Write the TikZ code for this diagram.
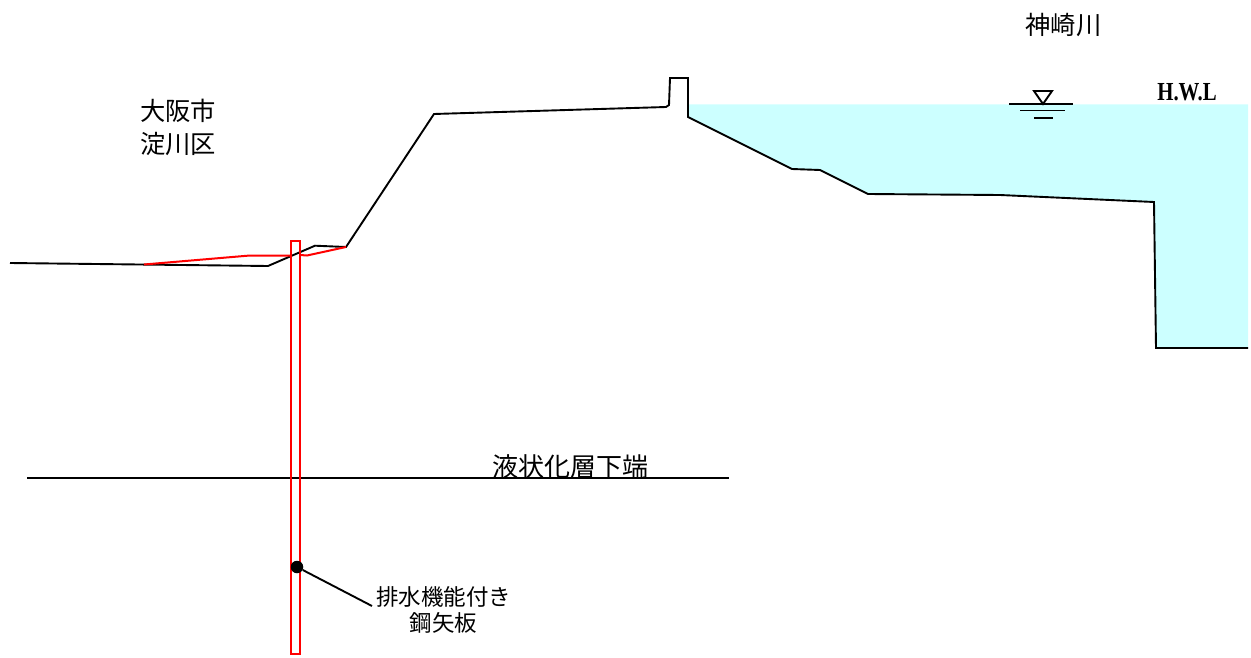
\documentclass[tikz,border=0pt]{standalone}
\usepackage{fontspec}
\newfontfamily\cjk{Noto Sans CJK JP}
\newfontfamily\hwl[FakeStretch=0.8]{Liberation Serif}
\tikzset{
  line/.style={draw=black,line width=1.9pt,line join=miter},
  redline/.style={draw=red,line width=2pt},
  jp/.style={font=\cjk\fontsize{25.3}{33}\selectfont,inner sep=0pt,align=center,text=black},
  jpwide/.style={font=\cjk\fontsize{26}{33}\selectfont,inner sep=0pt,align=center,text=black},
  jpsmall/.style={font=\cjk\fontsize{22.5}{26}\selectfont,inner sep=0pt,align=center,text=black},
}
\definecolor{water}{HTML}{CCFFFF}
\begin{document}
\begin{tikzpicture}[x=1pt,y=-1pt]
\useasboundingbox (0,0) rectangle (1251,658);
\fill[water] (689,104.5) -- (1248,104.5) -- (1248,348) -- (1156,348) -- (1154,202) -- (1000,195) -- (868,194) -- (820,170) -- (792,169) -- (688,117) -- cycle;
% ground and river bed
\draw[line] (10,263) -- (268,266) -- (315,245.7) -- (346,247) -- (434,114) -- (666,107) -- (669,105) -- (670,78) -- (688,78) -- (688,117) -- (792,169) -- (820,170) -- (868,194) -- (1000,195) -- (1154,202) -- (1156,348) -- (1248,348);
% lower end of liquefied layer
\coordinate (la) at (27,478); \coordinate (lb) at (729,478);
\draw[line] (la) -- (lb);
% embankment (red)
\draw[redline] (144,264.5) -- (250,255.5) -- (291,255.5);
\draw[redline] (300,255) -- (307,255.5) -- (346,247);
% sheet pile
\node[draw=red,line width=2pt,fill=none,minimum width=9pt,minimum height=413pt,inner sep=0pt,outer sep=0pt] (pile) at (295.5,447.5) {};
% marker and leader
\node[circle,fill=black,minimum size=12.5pt,inner sep=0pt] (dot) at (297,567) {};
\coordinate (lead) at (372,606);
\draw[line] (dot) -- (lead);
% water level symbol
\coordinate (wa) at (1034,91); \coordinate (wb) at (1052,91); \coordinate (wc) at (1043,104);
\draw[line] (wa) -- (wb) -- (wc) -- cycle;
\draw[line] (1009,104) -- (1073,104);
\draw[line] (1020,110.5) -- (1065,110.5);
\draw[line] (1034,118) -- (1053,118);
% labels
\node[jp] (osaka) at (178,127.5) {大阪市\\淀川区};
\node[jp] (river) at (1063.5,25) {神崎川};
\node[jpwide] (liq) at (570,466.5) {液状化層下端};
\node[jpsmall] (pilelabel) at (443.5,610) {排水機能付き\\鋼矢板};
\node[inner sep=0pt,text=black] (hwl) at (1187,92.5) {\hwl\bfseries\fontsize{26}{30}\selectfont H.W.L};
\end{tikzpicture}
\end{document}
